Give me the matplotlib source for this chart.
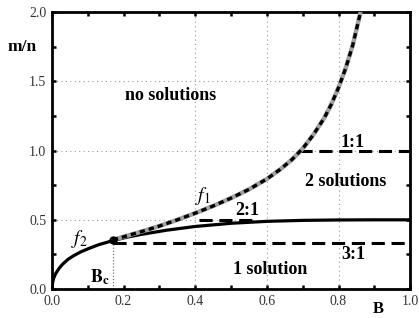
import matplotlib
matplotlib.use("Agg")
import matplotlib.pyplot as plt
from matplotlib.ticker import MultipleLocator

# curve
f1_x = [0.17, 0.25, 0.30, 0.35, 0.40, 0.45, 0.50, 0.55, 0.60, 0.64, 0.67, 0.70, 0.73, 0.76, 0.78, 0.80, 0.82, 0.84, 0.86]
f1_y = [0.355, 0.415, 0.455, 0.50, 0.548, 0.60, 0.657, 0.72, 0.795, 0.87, 0.935, 1.015, 1.115, 1.235, 1.335, 1.455, 1.595, 1.765, 1.985]
f2_x = [0.0, 0.002, 0.005, 0.01, 0.02, 0.03, 0.045, 0.06, 0.08, 0.10, 0.13, 0.17, 0.21, 0.25, 0.32, 0.40, 0.50, 0.60, 0.70, 0.80, 0.90, 1.0]
f2_y = [0.0, 0.05, 0.08, 0.11, 0.15, 0.18, 0.215, 0.24, 0.268, 0.29, 0.32, 0.35, 0.375, 0.395, 0.425, 0.452, 0.475, 0.489, 0.496, 0.499, 0.50, 0.50]

b_crit = 0.17
m_crit = 0.355

# resonance levels: label, m/n, x start, x end
ratio_labels = ["1:1", "2:1", "3:1"]
ratio_levels = [1.0, 0.5, 1 / 3]
ratio_start = [0.69, 0.41, 0.17]
ratio_end = [1.0, 0.56, 1.0]

plt.rcParams["font.family"] = ["Liberation Serif", "DejaVu Serif"]
plt.rcParams["mathtext.fontset"] = "stix"

fig = plt.figure(figsize=(4.19, 3.18), dpi=100)
ax = fig.add_axes([0.124, 0.091, 0.855, 0.871])
ax.set_xlim(0, 1)
ax.set_ylim(0, 2)

# sparse dotted grid
for gx in [0.4, 0.6, 0.8]:
    ax.axvline(gx, color="#9a9a9a", linestyle=(0, (1, 3)), linewidth=0.8, zorder=1)
for gy in [0.5, 1.0, 1.5]:
    ax.axhline(gy, color="#9a9a9a", linestyle=(0, (1, 3)), linewidth=0.8, zorder=1)

dash = (0, (4.3, 2.2))
for level, x0, x1 in zip(ratio_levels, ratio_start, ratio_end):
    ax.plot([x0, x1], [level, level], color="black", linestyle=dash, linewidth=2.2, zorder=3)

ax.plot(f2_x, f2_y, color="black", linewidth=2.3, solid_capstyle="butt", zorder=4)
ax.plot(f1_x, f1_y, color="#a0a0a0", linewidth=3.2, zorder=5)
ax.plot(f1_x, f1_y, color="black", linestyle=(0, (1.6, 1.2)), linewidth=2.4, zorder=6)

ax.plot([b_crit, b_crit], [0, m_crit], color="#777777", linestyle=(0, (1, 1.5)), linewidth=0.9, zorder=2)
ax.plot([b_crit], [m_crit], "o", color="black", markersize=5, zorder=7)

bold = dict(fontsize=13, fontweight="bold", ha="center", va="center")
ax.text(0.33, 1.40, "no solutions", **bold)
ax.text(0.82, 0.775, "2 solutions", **bold)
ax.text(0.61, 0.14, "1 solution", **bold)
ax.text(0.84, 1.06, ratio_labels[0], **bold)
ax.text(0.545, 0.565, ratio_labels[1], **bold)
ax.text(0.84, 0.25, ratio_labels[2], **bold)
ax.text(0.42, 0.67, r"$f_1$", fontsize=14, ha="center", va="center")
ax.text(0.078, 0.36, r"$f_2$", fontsize=14, ha="center", va="center")
ax.text(0.135, 0.085, r"$\mathbf{B_c}$", fontsize=13, ha="center", va="center")

ax.text(-0.084, 1.75, "m/n", fontsize=12.5, fontweight="bold", ha="center", va="center")
ax.text(0.91, -0.145, "B", fontsize=12, fontweight="bold", ha="center", va="center",
        clip_on=False)

ax.xaxis.set_major_locator(MultipleLocator(0.2))
ax.xaxis.set_minor_locator(MultipleLocator(0.1))
ax.yaxis.set_major_locator(MultipleLocator(0.5))
ax.yaxis.set_minor_locator(MultipleLocator(0.25))
ax.xaxis.set_major_formatter(plt.FormatStrFormatter("%.1f"))
ax.yaxis.set_major_formatter(plt.FormatStrFormatter("%.1f"))
ax.tick_params(which="both", direction="in", top=True, right=True, width=1.8,
               length=3, labelsize=10, pad=4, labelcolor="#333333")
for spine in ax.spines.values():
    spine.set_linewidth(2)

fig.savefig("out.png", dpi=100)
